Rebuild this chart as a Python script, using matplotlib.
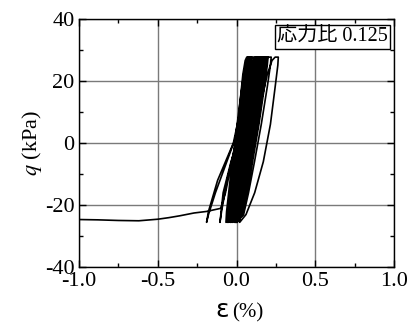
import numpy as np
import matplotlib
matplotlib.use("Agg")
import matplotlib.pyplot as plt
from matplotlib.ticker import MultipleLocator, FuncFormatter

plt.rcParams['font.family'] = ['Liberation Serif', 'Noto Sans CJK JP']
plt.rcParams['mathtext.fontset'] = 'stix'

# Stress levels visited in every load/unload cycle (kPa)
q_levels = [-25.5, -22, -12, 0, 12, 22, 26.5, 27.6,
            27.6, 25, 18, 6, -6, -16, -23]

# First loading from the origin (strain %, q kPa)
eps_initial = [0.0, 0.02, 0.04, 0.055, 0.065, 0.085, 0.081, 0.068, 0.045, 0.015, -0.01, -0.028]
q_initial = [0, 12, 22, 26.5, 27.6, 27.6, 25, 18, 6, -6, -16, -23]

# Axial strain (%) at each stress level, one row per cycle
eps_cycles = [
    [-0.040, -0.036, -0.015, 0.013, 0.042, 0.067, 0.083, 0.091, 0.095, 0.092, 0.079, 0.054, 0.025, 0.001, -0.020],
    [-0.055, -0.051, -0.030, -0.002, 0.027, 0.052, 0.068, 0.076, 0.085, 0.082, 0.069, 0.044, 0.015, -0.009, -0.030],
    [-0.067, -0.063, -0.041, -0.011, 0.019, 0.045, 0.062, 0.071, 0.080, 0.077, 0.063, 0.037, 0.007, -0.019, -0.040],
    [-0.060, -0.055, -0.033, -0.001, 0.031, 0.058, 0.077, 0.086, 0.095, 0.091, 0.077, 0.049, 0.018, -0.010, -0.032],
    [-0.050, -0.045, -0.022, 0.011, 0.044, 0.072, 0.091, 0.100, 0.110, 0.106, 0.091, 0.063, 0.030, 0.002, -0.022],
    [-0.040, -0.035, -0.011, 0.023, 0.057, 0.086, 0.106, 0.115, 0.125, 0.121, 0.106, 0.076, 0.043, 0.013, -0.011],
    [-0.030, -0.025, 0.000, 0.035, 0.070, 0.100, 0.120, 0.130, 0.140, 0.136, 0.120, 0.090, 0.055, 0.025, 0.000],
    [-0.025, -0.020, 0.006, 0.042, 0.078, 0.109, 0.130, 0.140, 0.150, 0.146, 0.129, 0.098, 0.062, 0.032, 0.006],
    [-0.015, -0.010, 0.016, 0.052, 0.088, 0.119, 0.140, 0.150, 0.160, 0.156, 0.139, 0.108, 0.072, 0.042, 0.016],
    [-0.010, -0.005, 0.022, 0.059, 0.096, 0.128, 0.149, 0.160, 0.170, 0.166, 0.149, 0.117, 0.080, 0.048, 0.022],
    [-0.005, 0.000, 0.028, 0.066, 0.104, 0.137, 0.159, 0.169, 0.180, 0.176, 0.158, 0.125, 0.087, 0.055, 0.027],
    [0.000, 0.006, 0.034, 0.073, 0.112, 0.146, 0.168, 0.179, 0.190, 0.186, 0.168, 0.134, 0.095, 0.061, 0.033],
    [0.005, 0.011, 0.040, 0.080, 0.120, 0.155, 0.178, 0.189, 0.200, 0.195, 0.177, 0.142, 0.102, 0.068, 0.039],
    [0.000, 0.006, 0.035, 0.075, 0.115, 0.150, 0.173, 0.184, 0.195, 0.190, 0.172, 0.137, 0.097, 0.063, 0.034],
    [-0.005, 0.001, 0.033, 0.076, 0.120, 0.158, 0.183, 0.200, 0.220, 0.215, 0.195, 0.157, 0.114, 0.076, 0.045],
    [0.000, 0.008, 0.045, 0.098, 0.150, 0.195, 0.225, 0.245, 0.265, 0.262, 0.245, 0.215, 0.170, 0.115, 0.060],
    [0.020, 0.025, 0.050, 0.080, 0.110, 0.140, 0.160, 0.170, 0.185, 0.180, 0.150, 0.040, -0.035, -0.085, -0.100],
    [-0.105, -0.095, -0.060, -0.005, 0.050, 0.100, 0.130, 0.145, 0.170, 0.165, 0.135, 0.025, -0.062, -0.134, -0.178],
]

# Last reloading, unloading and run-off in extension
eps_final = [-0.19, -0.178, -0.12, -0.02, 0.03, 0.09, 0.115, 0.125, 0.15, 0.145, 0.115, 0.045,
             -0.03, -0.07, -0.10, -0.19, -0.27, -0.36, -0.43, -0.50, -0.62, -0.75, -0.88, -1.0]
q_final = [-25.5, -22, -12, 0, 12, 22, 26.5, 27.6, 27.6, 25, 18, 6,
           -6, -16, -21, -22, -22.5, -23.4, -24.0, -24.5, -25.0, -24.9, -24.7, -24.6]

eps_path = list(eps_initial)
q_path = list(q_initial)
for row in eps_cycles:
    eps_path += row
    q_path += q_levels
eps_path += eps_final
q_path += q_final

fig = plt.figure(figsize=(4.11, 3.31), dpi=100)
ax = fig.add_axes([0.192, 0.192, 0.767, 0.752])

ax.plot(eps_path, q_path, color='black', lw=1.2, solid_joinstyle='round')

ax.set_xlim(-1.0, 1.0)
ax.set_ylim(-40, 40)
ax.xaxis.set_major_locator(MultipleLocator(0.5))
ax.xaxis.set_minor_locator(MultipleLocator(0.25))
ax.yaxis.set_major_locator(MultipleLocator(20))
ax.yaxis.set_minor_locator(MultipleLocator(10))
ax.xaxis.set_major_formatter(FuncFormatter(lambda v, p: f"{v:.1f}"))
ax.yaxis.set_major_formatter(FuncFormatter(lambda v, p: f"{v:.0f}"))
ax.tick_params(which='both', direction='in', top=True, right=True, labelsize=16, width=1)
ax.tick_params(which='major', length=5, pad=3)
ax.tick_params(which='minor', length=3)
ax.grid(True, which='major', color='#7a7a7a', lw=1)
ax.set_axisbelow(True)
for s in ax.spines.values():
    s.set_linewidth(1)

ax.set_ylabel(r'$q$ (kPa)', fontsize=16, labelpad=1)
fig.text(0.556, 0.042, '\u03b5', family='DejaVu Sans', fontsize=18, ha='right', va='baseline')
fig.text(0.565, 0.042, '(%)', fontsize=15, ha='left', va='baseline')

ax.text(0.980, 0.965, '応力比 0.125', transform=ax.transAxes, ha='right', va='top',
        fontsize=14.5,
        bbox=dict(boxstyle='square,pad=0.12', facecolor='white', edgecolor='black', lw=1))

fig.savefig('out.png', dpi=100)
